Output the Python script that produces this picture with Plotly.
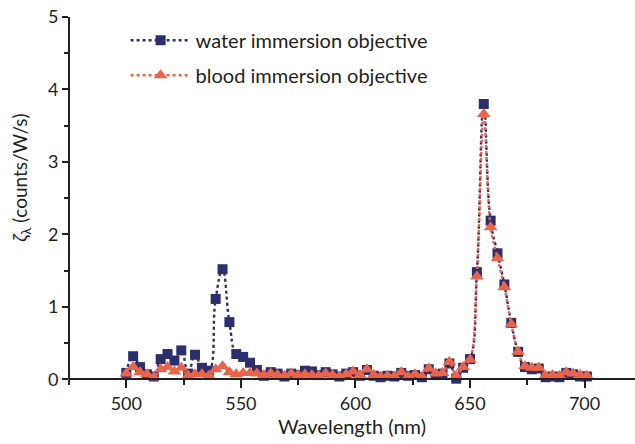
import plotly.graph_objects as go

wavelength = [500, 503, 506, 509, 512, 515, 518, 521, 524, 527, 530, 533, 536, 539, 542, 545,
              548, 551, 554, 557, 560, 563, 566, 569, 572, 575, 578, 581, 584, 587, 590, 593,
              596, 599, 602, 605, 608, 611, 614, 617, 620, 623, 626, 629, 632, 635, 638, 641,
              644, 647, 650, 653, 656, 659, 662, 665, 668, 671, 674, 677, 680, 683, 686, 689,
              692, 695, 698, 701]

water = [0.09, 0.32, 0.17, 0.07, 0.04, 0.28, 0.35, 0.26, 0.40, 0.08, 0.34, 0.16, 0.12, 1.11, 1.52, 0.79,
         0.35, 0.31, 0.23, 0.13, 0.05, 0.10, 0.08, 0.04, 0.08, 0.06, 0.12, 0.11, 0.06, 0.10, 0.07, 0.04,
         0.08, 0.10, 0.05, 0.13, 0.05, 0.03, 0.05, 0.04, 0.09, 0.05, 0.06, 0.03, 0.14, 0.06, 0.08, 0.22,
         0.01, 0.16, 0.28, 1.48, 3.80, 2.19, 1.74, 1.31, 0.78, 0.38, 0.17, 0.14, 0.15, 0.03, 0.04, 0.03,
         0.09, 0.07, 0.04, 0.04]

blood = [0.08, 0.17, 0.10, 0.07, 0.03, 0.14, 0.17, 0.11, 0.16, 0.05, 0.07, 0.07, 0.05, 0.14, 0.18, 0.10,
         0.07, 0.09, 0.09, 0.08, 0.06, 0.08, 0.06, 0.05, 0.08, 0.06, 0.07, 0.06, 0.05, 0.08, 0.06, 0.04,
         0.07, 0.11, 0.06, 0.14, 0.06, 0.04, 0.05, 0.04, 0.10, 0.04, 0.07, 0.04, 0.15, 0.08, 0.09, 0.24,
         0.05, 0.17, 0.27, 1.42, 3.66, 2.10, 1.67, 1.27, 0.76, 0.38, 0.18, 0.16, 0.16, 0.05, 0.06, 0.05,
         0.10, 0.08, 0.06, 0.05]

names = ["water immersion objective", "blood immersion objective"]
x_ticks = [500, 550, 600, 650, 700]
y_ticks = [0, 1, 2, 3, 4, 5]

BLUE = "#2c2f6e"
RED = "#e8644a"
INK = "#231f20"
FONT = "Lato"

y_lo, y_hi = -0.16, 5.0

fig = go.Figure()
fig.add_trace(go.Scatter(
    x=wavelength, y=water, name=names[0], mode="lines+markers", legendgroup="a",
    line=dict(color=BLUE, width=2.4, dash="dot", shape="spline", smoothing=1.3),
    marker=dict(symbol="square", size=10, color=BLUE),
    cliponaxis=False))
fig.add_trace(go.Scatter(
    x=wavelength, y=blood, name=names[1], mode="lines+markers", legendgroup="b",
    line=dict(color=RED, width=2.4, dash="dot", shape="spline", smoothing=1.0),
    marker=dict(symbol="triangle-up", size=12, color=RED),
    cliponaxis=False))

fig.add_shape(type="line", xref="paper", yref="y", x0=0, x1=0, y0=0, y1=y_hi,
              line=dict(color=INK, width=2))

fig.add_annotation(text="<i>ζ</i><sub>λ</sub> (counts/W/s)", xref="paper", yref="paper",
                   x=-0.085, y=0.57, xanchor="center", yanchor="middle", textangle=-90,
                   showarrow=False, font=dict(size=19, family=FONT, color=INK))

fig.update_layout(
    width=635, height=444,
    margin=dict(l=69, r=0, t=17, b=53),
    paper_bgcolor="white", plot_bgcolor="white",
    font=dict(family=FONT, color=INK, size=18),
    showlegend=True,
    legend=dict(x=0.1, y=0.99, xanchor="left", yanchor="top", traceorder="grouped",
                bgcolor="rgba(0,0,0,0)", font=dict(size=20, family=FONT, color=INK),
                itemwidth=60, tracegroupgap=6),
    xaxis=dict(range=[475, 722], anchor="free", position=(0 - y_lo) / (y_hi - y_lo),
               showline=True, linecolor=INK, linewidth=2, showgrid=False, zeroline=False,
               tickvals=x_ticks, ticks="outside", ticklen=8, tickwidth=2, tickcolor=INK,
               minor=dict(dtick=25, tick0=500, ticks="outside", ticklen=5, tickwidth=2, tickcolor=INK),
               tickfont=dict(size=18),
               title=dict(text="Wavelength (nm)", font=dict(size=20), standoff=4)),
    yaxis=dict(range=[y_lo, y_hi], showline=False, showgrid=False, zeroline=False,
               tickvals=y_ticks, ticks="outside", ticklen=6, tickwidth=2, tickcolor=INK,
               minor=dict(tickvals=[0.5, 1.5, 2.5, 3.5, 4.5], ticks="outside", ticklen=4, tickwidth=2, tickcolor=INK),
               tickfont=dict(size=18)),
)

fig.write_html("out.html")
